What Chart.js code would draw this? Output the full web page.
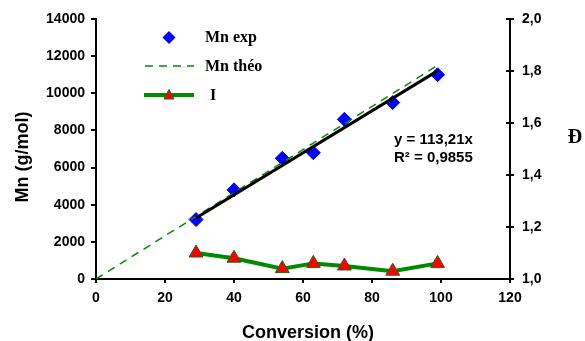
<!DOCTYPE html>
<html>
<head>
<meta charset="utf-8">
<script src="https://cdn.jsdelivr.net/npm/chart.js@4/dist/chart.umd.min.js"></script>
<style>
  html, body { margin: 0; padding: 0; background: #fff; }
  #wrap { width: 585px; height: 341px; }
</style>
</head>
<body>
<div id="wrap"><canvas id="chart" width="585" height="341"></canvas></div>
<script>
// conversion (%) of the samples
var conversion = [29, 40, 54, 63, 72, 86, 99];
// experimental Mn (g/mol)
var mnExp = [3200, 4800, 6500, 6800, 8600, 9500, 11000];
// dispersity (right axis)
var dispersity = [1.10, 1.08, 1.04, 1.06, 1.05, 1.03, 1.06];
// theoretical Mn line (start / end)
var theoX = [0, 99];
var theoY = [0, 11500];
// linear fit y = 113,21x over the measured range
var fitX = [29, 99];
var fitY = [3283, 11208];

var xTicks = [0, 20, 40, 60, 80, 100, 120];
var fitLabels = ['y = 113,21x', 'R\u00b2 = 0,9855'];

function pts(xs, ys) {
  return xs.map(function (x, i) { return { x: x, y: ys[i] }; });
}

var GREEN = '#008a00';
var SANS = '"Liberation Sans", Arial, sans-serif';
var SERIF = '"Liberation Serif", "Times New Roman", serif';
var tickFont = { family: SANS, size: 14, weight: 'bold' };

// legend, fit text, axis titles, inner ticks of the right axis
var extras = {
  id: 'extras',
  afterDraw: function (chart) {
    var ctx = chart.ctx;
    ctx.save();

    // right axis: ticks cross the axis line
    var y1 = chart.scales.y1;
    ctx.strokeStyle = '#000';
    ctx.lineWidth = 2;
    y1.ticks.forEach(function (t) {
      var py = Math.round(y1.getPixelForValue(t.value));
      ctx.beginPath(); ctx.moveTo(y1.left - 4, py); ctx.lineTo(y1.left, py); ctx.stroke();
    });

    // legend
    ctx.fillStyle = '#0000ff';
    ctx.beginPath();
    ctx.moveTo(169, 31); ctx.lineTo(175.5, 37.5); ctx.lineTo(169, 44); ctx.lineTo(162.5, 37.5);
    ctx.closePath(); ctx.fill();

    ctx.strokeStyle = GREEN;
    ctx.lineWidth = 1.5;
    ctx.setLineDash([8, 6]);
    ctx.beginPath(); ctx.moveTo(145, 66); ctx.lineTo(194, 66); ctx.stroke();
    ctx.setLineDash([]);
    ctx.lineWidth = 4;
    ctx.beginPath(); ctx.moveTo(144, 95); ctx.lineTo(194, 95); ctx.stroke();
    ctx.fillStyle = '#ff0000';
    ctx.strokeStyle = '#2d5a1e';
    ctx.lineWidth = 1;
    ctx.beginPath();
    ctx.moveTo(169, 89.5); ctx.lineTo(174, 99); ctx.lineTo(164, 99); ctx.closePath();
    ctx.fill(); ctx.stroke();

    ctx.fillStyle = '#000';
    ctx.font = 'bold 16px ' + SERIF;
    ctx.textBaseline = 'middle';
    ctx.textAlign = 'left';
    ctx.fillText('Mn exp', 205, 38);
    ctx.fillText('Mn th\u00e9o', 205, 67);
    ctx.fillText('I', 210, 96);

    // fit equation
    ctx.font = 'bold 15px ' + SANS;
    ctx.fillText(fitLabels[0], 394, 140);
    ctx.fillText(fitLabels[1], 394, 158);

    // axis titles
    ctx.textAlign = 'center';
    ctx.font = 'bold 18px ' + SANS;
    ctx.fillText('Conversion (%)', 308, 333);
    ctx.save();
    ctx.translate(23, 157);
    ctx.rotate(-Math.PI / 2);
    ctx.font = 'bold 18px ' + SANS;
    ctx.fillText('Mn (g/mol)', 0, 0);
    ctx.restore();

    ctx.font = 'bold 20px ' + SERIF;
    ctx.fillText('\u0110', 575, 138);
    ctx.restore();
  }
};

new Chart(document.getElementById('chart'), {
  type: 'scatter',
  data: {
    datasets: [
      {
        label: 'Mn exp',
        data: pts(conversion, mnExp),
        yAxisID: 'y',
        pointStyle: 'rectRot',
        pointRadius: 7,
        backgroundColor: '#0000ff',
        borderColor: '#0000ff',
        showLine: false,
        order: 3
      },
      {
        label: 'Mn th\u00e9o',
        data: pts(theoX, theoY),
        yAxisID: 'y',
        showLine: true,
        borderColor: GREEN,
        borderWidth: 1.5,
        borderDash: [8, 6],
        pointRadius: 0,
        order: 2
      },
      {
        label: 'fit',
        data: pts(fitX, fitY),
        yAxisID: 'y',
        showLine: true,
        borderColor: '#000',
        borderWidth: 3,
        pointRadius: 0,
        order: 1
      },
      {
        label: 'I',
        data: pts(conversion, dispersity),
        yAxisID: 'y1',
        showLine: true,
        borderColor: GREEN,
        borderWidth: 4,
        pointStyle: 'triangle',
        pointRadius: 8,
        pointBackgroundColor: '#ff0000',
        pointBorderColor: '#2d5a1e',
        pointBorderWidth: 1,
        order: 0
      }
    ]
  },
  options: {
    responsive: false,
    animation: false,
    layout: { padding: { top: 19, left: 0, right: 0, bottom: 0 } },
    plugins: { legend: { display: false }, tooltip: { enabled: false } },
    scales: {
      x: {
        type: 'linear',
        min: 0, max: 120,
        afterFit: function (s) { s.height = 62; },
        afterBuildTicks: function (s) { s.ticks = xTicks.map(function (v) { return { value: v }; }); },
        grid: { drawOnChartArea: false, color: '#000', lineWidth: 2, tickLength: 4 },
        border: { color: '#000', width: 2 },
        ticks: { color: '#000', font: tickFont, padding: 7, maxRotation: 0 }
      },
      y: {
        position: 'left',
        min: 0, max: 14000,
        afterFit: function (s) { s.width = 96; },
        grid: { drawOnChartArea: false, color: '#000', lineWidth: 2, tickLength: 5 },
        border: { color: '#000', width: 2 },
        ticks: {
          stepSize: 2000, color: '#000', font: tickFont, padding: 6,
          callback: function (v) { return String(v); }
        }
      },
      y1: {
        position: 'right',
        min: 1, max: 2,
        afterFit: function (s) { s.width = 75; },
        grid: { drawOnChartArea: false, color: '#000', lineWidth: 2, tickLength: 4 },
        border: { color: '#000', width: 2 },
        ticks: {
          stepSize: 0.2, color: '#000', font: tickFont, padding: 8,
          callback: function (v) { return v.toFixed(1).replace('.', ','); }
        }
      }
    }
  },
  plugins: [extras]
});
</script>
</body>
</html>
